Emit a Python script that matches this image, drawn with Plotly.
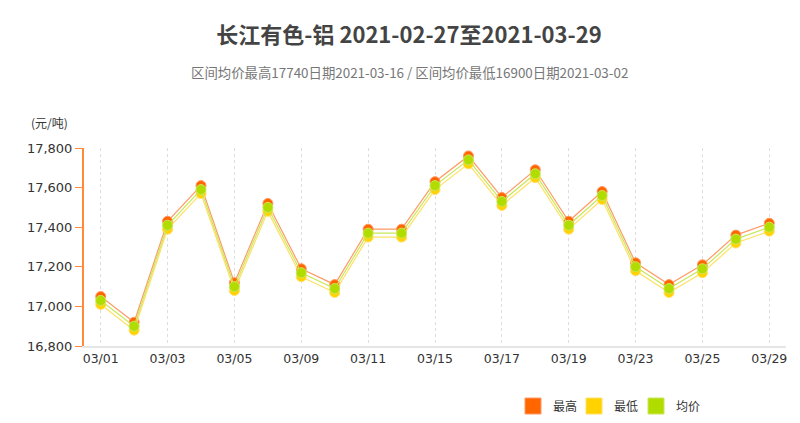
import plotly.graph_objects as go

dates = ["03/01","03/02","03/03","03/04","03/05","03/08","03/09","03/10","03/11","03/12",
         "03/15","03/16","03/17","03/18","03/19","03/22","03/23","03/24","03/25","03/26","03/29"]
high = [17050,16920,17430,17610,17120,17520,17190,17110,17390,17390,
        17630,17760,17550,17690,17430,17580,17220,17110,17210,17360,17420]
low = [17010,16880,17390,17570,17080,17480,17150,17070,17350,17350,
       17590,17720,17510,17650,17390,17540,17180,17070,17170,17320,17380]
avg = [17030,16900,17410,17590,17100,17500,17170,17090,17370,17370,
       17610,17740,17530,17670,17410,17560,17200,17090,17190,17340,17400]
tick_labels = ["03/01","03/03","03/05","03/09","03/11","03/15","03/17","03/19","03/23","03/25","03/29"]
y_ticks = [16800,17000,17200,17400,17600,17800]

series = [
    ("最高", high, "#FF6600", "#FF9A66"),
    ("最低", low, "#FFD200", "#FFE066"),
    ("均价", avg, "#B0DC00", "#C8E85A"),
]

# The page body has an 8px margin: work in reference pixels minus 8.
OFF = 8
W, H = 800 - OFF, 423 - OFF
L, T = 84 - OFF, 148 - OFF
R = W - (786 - OFF)
B = H - (346 - OFF)
PW = W - L - R
PH = H - T - B

def cy(y):
    return 1 - (y - OFF) / H

def cx(x):
    return (x - OFF) / W

def px_x(x):
    return (x - OFF - L) / PW

def px_y(y):
    return (H - B - (y - OFF)) / PH

legend_names = ["legend", "legend2", "legend3"]
legend_x = [513, 574, 636]

fig = go.Figure()
for name, vals, mc, lc in series:
    fig.add_trace(go.Scatter(
        x=dates, y=vals, name=name, mode="lines+markers",
        line=dict(color=lc, width=1.2),
        marker=dict(color=mc, size=10, line=dict(color=lc, width=1)),
        showlegend=False,
    ))
for (name, vals, mc, lc), lg in zip(series, legend_names):
    fig.add_trace(go.Scatter(
        x=[None], y=[None], name=name, mode="markers",
        marker=dict(color=mc, symbol="square", size=16, line=dict(color=lc, width=1)),
        showlegend=True, legend=lg,
    ))

font_family = "DejaVu Sans, Noto Sans CJK SC, sans-serif"
legend_font = dict(size=12, color="#333333", family="Noto Sans CJK SC, sans-serif")

layout_legends = {}
for lg, lx in zip(legend_names, legend_x):
    layout_legends[lg] = dict(
        orientation="h", xref="container", yref="container",
        x=cx(lx), xanchor="left", y=cy(406), yanchor="middle",
        font=legend_font, itemwidth=30, bgcolor="rgba(0,0,0,0)",
    )

fig.update_layout(
    width=W, height=H,
    margin=dict(l=L, r=R, t=T, b=B),
    paper_bgcolor="white", plot_bgcolor="white",
    font=dict(family=font_family, color="#333333", size=12),
    title=dict(
        text="<b>长江有色-铝 2021-02-27至2021-03-29</b>",
        x=cx(409), xanchor="center", xref="container",
        y=cy(35), yanchor="middle", yref="container",
        font=dict(size=22, color="#444444", family="Noto Sans CJK SC, DejaVu Sans, sans-serif"),
    ),
    xaxis=dict(
        type="category", categoryorder="array", categoryarray=dates,
        range=[-0.5, 20.5],
        tickmode="array", tickvals=tick_labels, ticktext=tick_labels,
        showgrid=True, gridcolor="#DDDDDD", griddash="dot", gridwidth=1,
        showline=True, linecolor="#E6E6E6", linewidth=2,
        ticks="", tickfont=dict(size=12.5, color="#333333"),
        zeroline=False, fixedrange=True,
    ),
    yaxis=dict(
        range=[16800, 17800],
        tickmode="array", tickvals=y_ticks, tickformat=",",
        showgrid=False, zeroline=False,
        showline=True, linecolor="#FF8A3D", linewidth=2,
        ticks="outside", ticklen=7, tickcolor="#FF8A3D", tickwidth=1,
        tickfont=dict(size=13, color="#333333"),
    ),
    annotations=[
        dict(text="区间均价最高17740日期2021-03-16 / 区间均价最低16900日期2021-03-02",
             xref="paper", yref="paper", x=px_x(409.5), xanchor="center",
             y=px_y(72), yanchor="middle", showarrow=False,
             font=dict(size=13.4, color="#777777", family="Noto Sans CJK SC, DejaVu Sans, sans-serif")),
        dict(text="(元/吨)", xref="paper", yref="paper", x=px_x(29), xanchor="left",
             y=px_y(122), yanchor="middle", showarrow=False,
             font=dict(size=12, color="#333333", family="Noto Sans CJK SC, sans-serif")),
    ],
    **layout_legends,
)

fig.write_html("out.html")
